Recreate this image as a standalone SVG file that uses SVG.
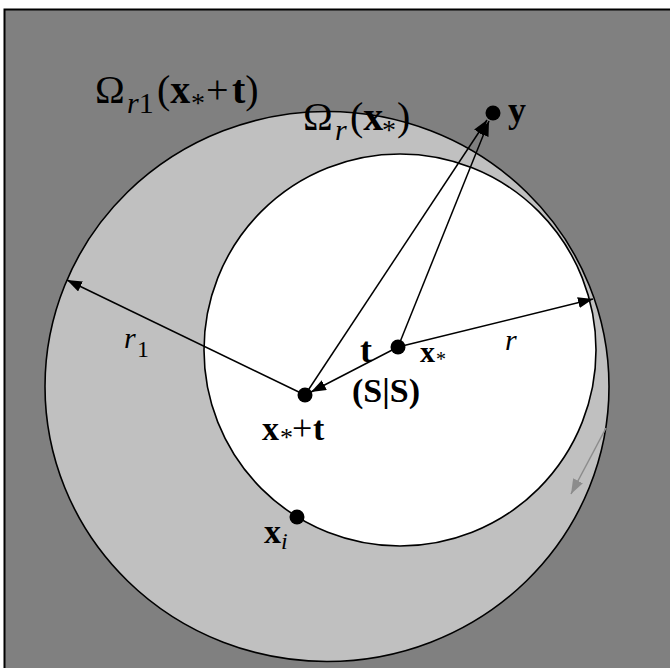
<svg xmlns="http://www.w3.org/2000/svg" width="670" height="668" viewBox="0 0 670 668">
<style>
text{font-family:"Liberation Serif","Times New Roman",serif;fill:#000}
.b{font-weight:bold}
.i{font-style:italic}
.c{stroke:#000;stroke-width:1.6}
.dot{fill:#000}
.ln{stroke:#000;stroke-width:1.5;fill:none}
.gl{stroke:#8c8c8c;stroke-width:1.5;fill:none}
</style>
<defs>
<marker id="ah" markerUnits="userSpaceOnUse" markerWidth="16" markerHeight="12" refX="15" refY="5.5" orient="auto"><path d="M0,0 L15,5.5 L0,11 z" fill="#000"/></marker>
<marker id="ag" markerUnits="userSpaceOnUse" markerWidth="16" markerHeight="12" refX="15" refY="5.5" orient="auto"><path d="M0,0 L15,5.5 L0,11 z" fill="#8c8c8c"/></marker>
</defs>
<rect x="4.5" y="9.5" width="690" height="690" fill="#808080" stroke="#000" stroke-width="2"/>
<g id="outer-region">
<ellipse class="c" cx="327" cy="386.5" rx="282" ry="275" fill="#c0c0c0"/>
</g>
<g id="inner-region">
<circle class="c" cx="400" cy="350" r="196" fill="#fff"/>
</g>
<g id="connectors">
<path class="ln" d="M305,395 L67,280" marker-end="url(#ah)"/>
<path class="ln" d="M398,347 L593,299" marker-end="url(#ah)"/>
<path class="ln" d="M398,347 L311,392" marker-end="url(#ah)"/>
<path class="ln" d="M305,395 L487,120" marker-end="url(#ah)"/>
<path class="ln" d="M398,347 L489,121" marker-end="url(#ah)"/>
<path class="gl" d="M606,428 L571,494" marker-end="url(#ag)"/>
</g>
<g id="label-omega-r1">
<text x="95" y="103" font-size="40">Ω<tspan x="127" y="113" font-size="30" class="i">r</tspan><tspan font-size="30">1</tspan><tspan x="157" y="103">(</tspan><tspan class="b">x</tspan><tspan x="191" y="112" font-size="28">*</tspan><tspan x="206" y="103">+</tspan><tspan x="232" class="b">t</tspan><tspan>)</tspan></text>
</g>
<g id="label-omega-r">
<text x="303" y="130" font-size="40">Ω<tspan x="335" y="140" font-size="30" class="i">r</tspan><tspan x="350" y="130">(</tspan><tspan class="b">x</tspan><tspan x="382" y="139" font-size="28">*</tspan><tspan x="397" y="130">)</tspan></text>
</g>
<g id="node-y">
<circle class="dot" cx="493" cy="113" r="7.5"/>
<text x="508" y="122" font-size="36" class="b">y</text>
</g>
<g id="node-xstar">
<circle class="dot" cx="398" cy="347" r="7.5"/>
<text x="420" y="362" font-size="30" class="b">x<tspan x="436" y="366" font-size="20" font-weight="normal">*</tspan></text>
</g>
<g id="label-t">
<text x="360" y="362" font-size="36" class="b">t</text>
</g>
<g id="label-SS">
<text x="352" y="402" font-size="34" class="b">(S|S)</text>
</g>
<g id="node-xstar-t">
<circle class="dot" cx="305" cy="395" r="7.5"/>
<text x="262" y="440" font-size="34"><tspan class="b">x</tspan><tspan x="280" y="446" font-size="26">*</tspan><tspan x="292" y="440" font-size="36">+</tspan><tspan x="313" class="b">t</tspan></text>
</g>
<g id="node-xi">
<circle class="dot" cx="297" cy="517" r="7.5"/>
<text x="264" y="543" font-size="34" class="b">x<tspan x="281" y="549" font-size="24" font-weight="normal" class="i">i</tspan></text>
</g>
<g id="label-r1">
<text x="124" y="348" font-size="30" class="i">r<tspan x="137" y="357" font-size="24" font-style="normal">1</tspan></text>
</g>
<g id="label-r">
<text x="505" y="350" font-size="30" class="i">r</text>
</g>
</svg>
